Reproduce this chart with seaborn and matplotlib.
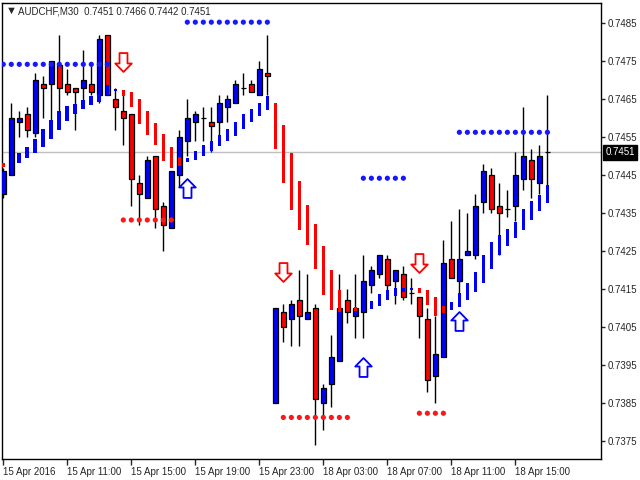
import numpy as np
import pandas as pd
import seaborn as sns
import matplotlib.pyplot as plt
import matplotlib.transforms as mtransforms
from matplotlib.path import Path

sns.set_style('white')
plt.rcParams['font.family'] = ['Liberation Sans', 'DejaVu Sans']

# AUDCHF M30 candles, 15 Apr 2016 07:00 -> 18 Apr 2016 17:00
opens = [0.7440, 0.7445, 0.7459, 0.7461, 0.7456, 0.7469, 0.7469, 0.7474, 0.7469, 0.7468,
         0.7468, 0.7469, 0.7466, 0.7482, 0.7465, 0.7462, 0.7461, 0.7443, 0.7439, 0.7450,
         0.7437, 0.7431, 0.7445, 0.7454, 0.7459, 0.7460, 0.7459, 0.7459, 0.7463, 0.7464,
         0.7468, 0.7469, 0.7466, 0.7472, 0.7385, 0.7409, 0.7407, 0.7412, 0.7407, 0.7410,
         0.7385, 0.7390, 0.7396, 0.7412, 0.7408, 0.7409, 0.7416, 0.7419, 0.7423, 0.7417,
         0.7419, 0.7414, 0.7413, 0.7407, 0.7392, 0.7397, 0.7423, 0.7417, 0.7424, 0.7424,
         0.7438, 0.7445, 0.7437, 0.7436, 0.7437, 0.7444, 0.7449, 0.7443, 0.7451]
highs = [0.7447, 0.7464, 0.7462, 0.7463, 0.7472, 0.7471, 0.7475, 0.7482, 0.7473, 0.7468,
         0.7478, 0.7474, 0.7482, 0.7482, 0.7468, 0.7467, 0.7461, 0.7445, 0.7450, 0.7450,
         0.7438, 0.7446, 0.7457, 0.7465, 0.7462, 0.7463, 0.7463, 0.7466, 0.7466, 0.7470,
         0.7472, 0.7470, 0.7475, 0.7482, 0.7410, 0.7411, 0.7412, 0.7420, 0.7419, 0.7411,
         0.7390, 0.7403, 0.7419, 0.7415, 0.7419, 0.7424, 0.7421, 0.7424, 0.7424, 0.7420,
         0.7421, 0.7418, 0.7413, 0.7410, 0.7408, 0.7428, 0.7433, 0.7436, 0.7435, 0.7440,
         0.7448, 0.7447, 0.7443, 0.7441, 0.7451, 0.7463, 0.7452, 0.7453, 0.7466]
lows = [0.7439, 0.7445, 0.7455, 0.7455, 0.7455, 0.7460, 0.7459, 0.7462, 0.7466, 0.7457,
        0.7463, 0.7466, 0.7464, 0.7466, 0.7457, 0.7453, 0.7437, 0.7432, 0.7439, 0.7431,
        0.7425, 0.7431, 0.7442, 0.7450, 0.7454, 0.7454, 0.7451, 0.7453, 0.7459, 0.7464,
        0.7466, 0.7467, 0.7466, 0.7466, 0.7385, 0.7401, 0.7400, 0.7400, 0.7407, 0.7374,
        0.7378, 0.7384, 0.7396, 0.7406, 0.7402, 0.7402, 0.7414, 0.7418, 0.7414, 0.7411,
        0.7412, 0.7411, 0.7402, 0.7388, 0.7385, 0.7397, 0.7418, 0.7414, 0.7424, 0.7423,
        0.7435, 0.7435, 0.7424, 0.7434, 0.7433, 0.7441, 0.7439, 0.7440, 0.7442]
closes = [0.7446, 0.7460, 0.7460, 0.7457, 0.7470, 0.7468, 0.7475, 0.7468, 0.7467, 0.7467,
          0.7470, 0.7467, 0.7481, 0.7466, 0.7463, 0.7460, 0.7444, 0.7440, 0.7449, 0.7436,
          0.7432, 0.7446, 0.7455, 0.7460, 0.7461, 0.7460, 0.7458, 0.7464, 0.7465, 0.7469,
          0.7468, 0.7467, 0.7473, 0.7471, 0.7410, 0.7405, 0.7411, 0.7408, 0.7409, 0.7386,
          0.7389, 0.7397, 0.7410, 0.7409, 0.7410, 0.7417, 0.7420, 0.7424, 0.7416, 0.7420,
          0.7413, 0.7414, 0.7408, 0.7391, 0.7398, 0.7422, 0.7418, 0.7423, 0.7425, 0.7437,
          0.7446, 0.7436, 0.7435, 0.7436, 0.7445, 0.7450, 0.7444, 0.7450, 0.7451]

# trend indicator step segments (u = up/blue, d = down/red, '' = none)
ind_hi = [0.74482, None, 0.74508, 0.74523, 0.74545, 0.74572, 0.74595, 0.74619, 0.74632, 0.74637,
          0.74648, 0.74659, 0.74664, 0.74688, 0.74677, 0.74674, 0.74670, 0.74651, 0.74619, 0.74588,
          0.74558, 0.74525, 0.74499, 0.74496, 0.74514, 0.74529, 0.74540, 0.74556, 0.74572, 0.74591,
          0.74610, 0.74624, 0.74639, 0.74659, 0.74639, 0.74582, 0.74508, 0.74435, 0.74372, 0.74322,
          0.74263, 0.74200, 0.74148, None, 0.74104, None, 0.74119, 0.74136, 0.74148, 0.74154,
          0.74154, 0.74154, 0.74154, 0.74148, 0.74130, 0.74106, 0.74117, 0.74141, 0.74167, 0.74194,
          0.74240, 0.74273, 0.74292, 0.74308, 0.74326, 0.74361, 0.74382, 0.74398, 0.74424]
ind_lo = [0.74472, None, 0.74482, 0.74494, 0.74508, 0.74525, 0.74546, 0.74569, 0.74593, 0.74611,
          0.74624, 0.74635, 0.74644, 0.74661, 0.74672, 0.74659, 0.74629, 0.74585, 0.74556, 0.74529,
          0.74488, 0.74470, 0.74475, 0.74486, 0.74490, 0.74501, 0.74514, 0.74528, 0.74541, 0.74554,
          0.74572, 0.74591, 0.74607, 0.74622, 0.74519, 0.74429, 0.74359, 0.74306, 0.74266, 0.74203,
          0.74134, 0.74095, 0.74090, None, 0.74092, None, 0.74098, 0.74106, 0.74121, 0.74132,
          0.74143, 0.74148, 0.74141, 0.74108, 0.74080, 0.74086, 0.74095, 0.74104, 0.74121, 0.74143,
          0.74167, 0.74203, 0.74239, 0.74264, 0.74285, 0.74306, 0.74332, 0.74356, 0.74378]
ind_dir = ['d', '', 'u', 'u', 'u', 'u', 'u', 'u', 'u', 'u',
           'u', 'u', 'u', 'u', 'u', 'd', 'd', 'd', 'd', 'd',
           'd', 'd', 'd', 'u', 'u', 'u', 'u', 'u', 'u', 'u',
           'u', 'u', 'u', 'u', 'd', 'd', 'd', 'd', 'd', 'd',
           'd', 'd', 'd', '', 'd', '', 'u', 'u', 'u', 'u',
           'u', 'u', 'd', 'd', 'd', 'd', 'u', 'u', 'u', 'u',
           'u', 'u', 'u', 'u', 'u', 'u', 'u', 'u', 'u']

# dotted support / resistance levels
res_start = [0, 23, 45, 57]
res_end = [13, 33, 50, 68]
res_price = [0.74742, 0.74853, 0.74442, 0.74563]
sup_start = [15, 35, 52]
sup_end = [21, 43, 55]
sup_price = [0.74332, 0.73812, 0.73823]

# signal arrows
dn_arrow_bar = [15, 35, 52]
dn_arrow_price = [0.74747, 0.74196, 0.74218]
up_arrow_bar = [23, 45, 57]
up_arrow_price = [0.74416, 0.73944, 0.74065]

time_ticks = [0, 8, 16, 24, 32, 40, 48, 56, 64]
time_labels = ['15 Apr 2016', '15 Apr 11:00', '15 Apr 15:00', '15 Apr 19:00', '15 Apr 23:00',
               '18 Apr 03:00', '18 Apr 07:00', '18 Apr 11:00', '18 Apr 15:00']
price_ticks = [0.7375, 0.7385, 0.7395, 0.7405, 0.7415, 0.7425, 0.7435, 0.7445, 0.7455, 0.7465, 0.7475, 0.7485]

df = pd.DataFrame({'open': opens, 'high': highs, 'low': lows, 'close': closes})
df['bar'] = np.arange(len(df))
body_col = np.where(df['close'] >= df['open'], '#0000ff', '#ff0000')

fig = plt.figure(figsize=(6.4, 4.8), dpi=100)
ax = fig.add_axes([2/640, 21/480, 599/640, 456/480])

last = df.iloc[-1]
ax.axhline(last['close'], color='#c0c0c0', lw=1, zorder=0)

ax.vlines(df['bar'], df['low'], df['high'], color='black', lw=1, zorder=2)
ax.bar(df['bar'], df['close'] - df['open'], bottom=df['open'], width=0.6,
       color=body_col, edgecolor='black', linewidth=0.9, zorder=3)

ind = pd.DataFrame({'bar': df['bar'], 'hi': ind_hi, 'lo': ind_lo, 'dir': ind_dir}).dropna()
ax.bar(ind['bar'], ind['hi'] - ind['lo'], bottom=ind['lo'], width=0.45,
       color=np.where(ind['dir'] == 'u', '#0000ff', '#ff0000'), linewidth=0, zorder=4)

dots = []
for s, e, p in zip(res_start, res_end, res_price):
    dots += [(b, p, 'res') for b in range(s, e + 1)]
for s, e, p in zip(sup_start, sup_end, sup_price):
    dots += [(b, p, 'sup') for b in range(s, e + 1)]
dots = pd.DataFrame(dots, columns=['bar', 'price', 'side'])
sns.scatterplot(data=dots, x='bar', y='price', hue='side', palette={'res': '#1818ff', 'sup': '#ff1818'},
                s=14, linewidth=0, legend=False, ax=ax, zorder=5)

dn_verts = [(-4, 9.5), (4, 9.5), (4, -1), (8.3, -1), (0, -9.5), (-8.3, -1), (-4, -1), (-4, 9.5)]
codes = [Path.MOVETO] + [Path.LINETO] * 6 + [Path.CLOSEPOLY]
dn_marker = Path(dn_verts, codes)
up_marker = Path([(x, -y) for x, y in dn_verts], codes)
ax.scatter(dn_arrow_bar, dn_arrow_price, marker=dn_marker, s=185, facecolor='white',
           edgecolor='#ff0000', linewidths=1.3, zorder=6)
ax.scatter(up_arrow_bar, up_arrow_price, marker=up_marker, s=185, facecolor='white',
           edgecolor='#0000ff', linewidths=1.3, zorder=6)

ax.set_xlim(-0.16, 74.7)
ax.set_ylim(0.737025, 0.749035)
ax.set_xlabel(None)
ax.set_ylabel(None)
ax.set_xticks(time_ticks, time_labels, ha='left')
ax.set_yticks(price_ticks, [f'{v:.4f}' for v in price_ticks])
ax.tick_params(axis='x', bottom=True, direction='out', length=4, width=1, labelsize=7, pad=2)
ax.tick_params(axis='y', left=False, labelleft=False, right=True, labelright=True,
               direction='out', length=3, width=1, labelsize=7, pad=2)
for sp in ax.spines.values():
    sp.set_color('black')
    sp.set_linewidth(1)

trans = mtransforms.blended_transform_factory(ax.transAxes, ax.transData)
ax.text(1.0075, last['close'], f"{last['close']:.4f}", transform=trans, ha='left', va='center',
        color='white', fontsize=7, bbox=dict(facecolor='black', edgecolor='black', pad=1.6))

fig.text(6/640, 1 - 11/480, '\u25bc', fontsize=8, va='center')
fig.text(18/640, 1 - 11/480,
         f"AUDCHF,M30  {last['open']:.4f} {last['high']:.4f} {last['low']:.4f} {last['close']:.4f}",
         fontsize=7, va='center')

plt.savefig('out.png', dpi=100)
